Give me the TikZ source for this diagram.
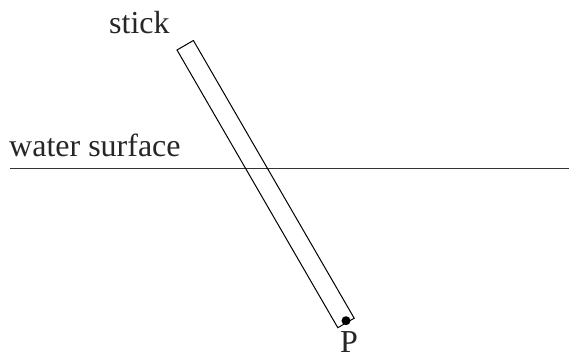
\documentclass[tikz,border=0pt]{standalone}
\usepackage{fontspec}
\setmainfont{Liberation Serif}
\usepackage{tikz}
\usetikzlibrary{positioning, calc}

\tikzset{
    lbl/.style={font=\fontsize{32}{38}\selectfont, inner sep=0pt, text=black!85},
    stickline/.style={line width=1pt, line join=miter}
}

\begin{document}
\begin{tikzpicture}[x=1pt, y=-1pt]

    \useasboundingbox (0, 0) rectangle (569, 358);

    % --- Water Surface ---
    \coordinate (wl) at (10, 168.5);
    \coordinate (wr) at (569, 168.5);
    \draw[line width=1.4pt, black!80] (wl) -- (wr);
    \node[lbl, anchor=base west] (water) at (9, 157) {water surface};

    % --- Stick (rotated rectangle) ---
    \coordinate (tl) at (177, 50);
    \coordinate (tr) at (193.4, 40.5);
    \coordinate (br) at (354.2, 318.2);
    \coordinate (bl) at (337.8, 327.7);
    \draw[stickline] (tl) -- (tr) -- (br) -- (bl) -- cycle;
    \node[lbl, anchor=base west] (stick) at (109, 34) {stick};

    % --- Point P at the lower end ---
    \fill (346, 320.7) circle (4.5);
    \node[lbl, anchor=base] (P) at (349, 352) {P};

\end{tikzpicture}
\end{document}
